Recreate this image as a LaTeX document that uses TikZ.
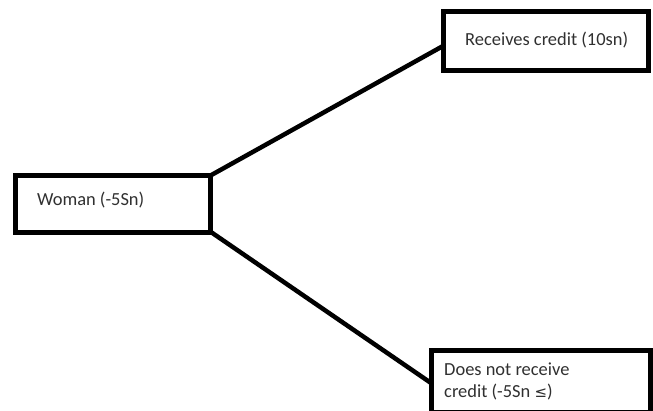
\documentclass[tikz,border=0pt]{standalone}
\usepackage{fontspec}
\setmainfont{Carlito}
\newfontfamily\symfont{DejaVu Sans}
\definecolor{txt}{HTML}{303030}
\begin{document}
\begin{tikzpicture}[x=1bp,y=-1bp,
  box/.style={draw=black,line width=5bp,fill=white},
  lbl/.style={anchor=base west,inner sep=0pt,text=txt,font=\fontsize{18.5}{22}\selectfont},
  link/.style={line width=4.5bp}]
\useasboundingbox[fill=white] (0,0) rectangle (653,410);
% boxes
\path[box] (15.5,175.5) rectangle (210.5,232.5);
\coordinate (wNE) at (210.5,175.5);
\coordinate (wSE) at (208,230);
\path[box] (443,11) rectangle (648,70);
\coordinate (rW) at (443,46);
\path[box] (431,350) rectangle (650,412);
\coordinate (dW) at (431,383);
% links
\draw[link] (wNE) -- (rW);
\draw[link] (wSE) -- (dW);
% texts
\node[lbl] (w) at (37,205) {Woman (-5Sn)};
\node[lbl] (r) at (465,45) {Receives credit (10sn)};
\node[lbl] (d1) at (444,375) {Does not receive};
\node[lbl] (d2) at (444,397) {credit (-5Sn {\symfont\fontsize{15}{18}\selectfont ≤})};
\end{tikzpicture}
\end{document}
